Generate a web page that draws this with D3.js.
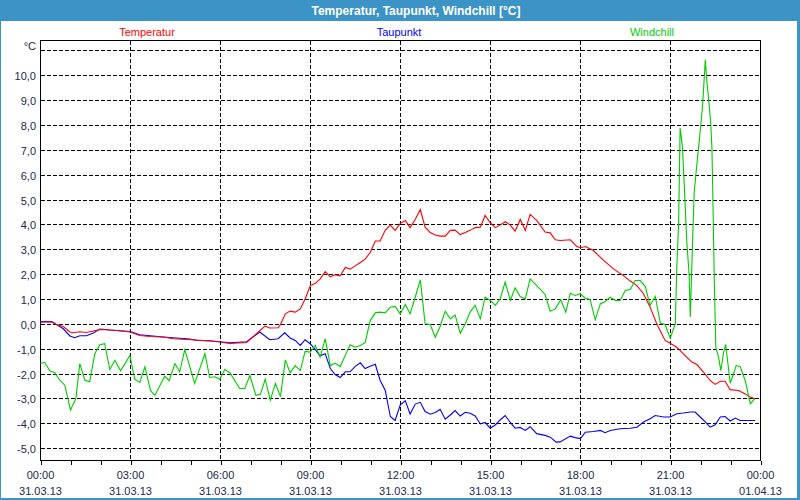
<!DOCTYPE html>
<html><head><meta charset="utf-8">
<script src="https://cdn.jsdelivr.net/npm/d3@7"></script>
<style>
html,body{margin:0;padding:0;background:#fff;}
svg{display:block;}
text{font-family:"Liberation Sans",Arial,sans-serif;}
</style></head>
<body>
<svg id="chart" width="800" height="500"></svg>
<script>
const titleText = "Temperatur, Taupunkt, Windchill [°C]";
const seriesNames = ["Temperatur", "Taupunkt", "Windchill"];
const seriesColors = ["#ff0000", "#0000ff", "#00cc00"];
const yTicks = [-5,-4,-3,-2,-1,0,1,2,3,4,5,6,7,8,9,10,11];
const yUnit = "°C";
const xTickHours = [0,3,6,9,12,15,18,21,24];
const xTimeLabels = ["00:00","03:00","06:00","09:00","12:00","15:00","18:00","21:00","00:00"];
const xDateLabels = ["31.03.13","31.03.13","31.03.13","31.03.13","31.03.13","31.03.13","31.03.13","31.03.13","01.04.13"];

// [hour, value]
const temperatur = [[0,0.07],[0.37,0.07],[0.53,-0.03],[0.76,-0.11],[0.98,-0.33],[1.09,-0.36],[1.31,-0.32],[1.53,-0.35],[1.76,-0.29],[1.98,-0.23],[2.2,-0.24],[2.53,-0.27],[2.99,-0.33],[3.31,-0.47],[3.64,-0.51],[4.09,-0.53],[4.42,-0.6],[4.87,-0.63],[5.2,-0.65],[5.64,-0.69],[5.98,-0.73],[6.31,-0.79],[6.87,-0.75],[7.2,-0.4],[7.48,-0.09],[7.64,-0.17],[7.92,-0.16],[8.0,-0.03],[8.16,0.4],[8.32,0.51],[8.49,0.47],[8.66,0.6],[8.82,1.0],[8.99,1.53],[9.16,1.63],[9.32,1.8],[9.49,2.1],[9.66,1.89],[9.82,1.97],[9.99,1.93],[10.16,2.27],[10.32,2.2],[10.49,2.33],[10.66,2.47],[10.82,2.6],[10.99,2.87],[11.16,3.33],[11.32,3.33],[11.49,3.76],[11.66,3.97],[11.82,3.76],[11.99,4.03],[12.16,4.16],[12.32,3.87],[12.49,4.2],[12.66,4.6],[12.82,3.89],[12.99,3.67],[13.16,3.57],[13.32,3.53],[13.49,3.53],[13.66,3.76],[13.82,3.77],[13.99,3.59],[14.16,3.67],[14.32,3.76],[14.49,3.87],[14.66,3.89],[14.82,4.36],[14.99,4.07],[15.16,3.87],[15.32,3.97],[15.49,4.11],[15.66,3.97],[15.82,3.73],[15.99,4.2],[16.16,3.76],[16.32,4.4],[16.54,4.16],[16.82,3.69],[16.99,3.66],[17.16,3.38],[17.32,3.35],[17.66,3.38],[17.88,3.11],[18.0,3.06],[18.16,3.11],[18.43,2.95],[18.77,2.55],[19.1,2.21],[19.43,1.94],[19.66,1.72],[19.88,1.54],[20.1,1.21],[20.32,0.67],[20.54,0],[20.82,-0.67],[20.99,-0.78],[21.21,-0.94],[21.43,-1.21],[21.71,-1.54],[21.88,-1.64],[22.1,-1.94],[22.32,-2.28],[22.49,-2.44],[22.66,-2.31],[22.82,-2.31],[22.99,-2.65],[23.27,-2.68],[23.49,-2.82],[23.66,-2.95],[23.82,-3.02]];

const taupunkt = [[0,0.09],[0.37,0.09],[0.76,-0.2],[0.98,-0.49],[1.14,-0.56],[1.31,-0.48],[1.53,-0.48],[1.76,-0.37],[1.98,-0.21],[2.31,-0.25],[2.99,-0.31],[3.31,-0.44],[4.09,-0.53],[4.98,-0.61],[5.2,-0.67],[5.64,-0.68],[5.98,-0.72],[6.31,-0.76],[6.87,-0.72],[7.31,-0.33],[7.64,-0.64],[7.92,-0.6],[8.14,-0.36],[8.32,-0.57],[8.49,-0.67],[8.66,-0.87],[8.82,-0.64],[8.99,-0.8],[9.16,-1.04],[9.32,-1.29],[9.49,-1.2],[9.66,-1.8],[9.82,-2.04],[9.99,-2.16],[10.16,-1.93],[10.32,-1.93],[10.49,-1.71],[10.66,-1.57],[10.82,-1.8],[10.99,-1.71],[11.16,-1.63],[11.32,-2.27],[11.49,-2.67],[11.66,-3.73],[11.82,-3.89],[11.99,-3.27],[12.16,-3.09],[12.32,-3.63],[12.49,-3.23],[12.66,-3.16],[12.82,-3.53],[12.99,-3.64],[13.16,-3.57],[13.32,-3.44],[13.49,-3.84],[13.66,-3.67],[13.82,-3.49],[13.99,-3.71],[14.16,-3.56],[14.32,-3.6],[14.49,-3.71],[14.66,-4.03],[14.82,-3.97],[14.99,-4.2],[15.16,-4.07],[15.32,-3.87],[15.49,-3.69],[15.66,-3.97],[15.82,-4.2],[15.99,-4.17],[16.16,-4.29],[16.32,-4.14],[16.54,-4.42],[16.82,-4.49],[16.99,-4.56],[17.19,-4.76],[17.32,-4.75],[17.66,-4.52],[17.82,-4.58],[18.0,-4.62],[18.16,-4.36],[18.43,-4.33],[18.66,-4.29],[18.82,-4.38],[18.99,-4.29],[19.32,-4.22],[19.66,-4.2],[19.88,-4.16],[20.1,-3.95],[20.32,-3.82],[20.49,-3.69],[20.77,-3.75],[20.99,-3.75],[21.21,-3.62],[21.43,-3.59],[21.66,-3.55],[21.82,-3.55],[21.99,-3.75],[22.16,-3.95],[22.32,-4.16],[22.49,-4.06],[22.66,-3.75],[22.82,-3.73],[22.99,-3.91],[23.16,-3.79],[23.32,-3.89],[23.82,-3.89]];

const windchill = [[0,-1.6],[0.14,-1.55],[0.31,-1.89],[0.48,-1.97],[0.64,-2.27],[0.81,-2.47],[1.0,-3.47],[1.18,-3.0],[1.31,-1.6],[1.48,-2.27],[1.64,-2.33],[1.81,-1.2],[1.98,-0.84],[2.14,-0.8],[2.31,-1.84],[2.48,-1.47],[2.67,-1.89],[2.98,-1.27],[3.14,-2.23],[3.31,-2.36],[3.48,-1.73],[3.67,-2.69],[3.81,-2.88],[4.14,-2.11],[4.29,-2.29],[4.48,-1.6],[4.64,-1.93],[4.81,-1.04],[5.14,-2.4],[5.48,-1.2],[5.64,-2.16],[5.81,-2.13],[5.98,-2.23],[6.14,-1.84],[6.31,-1.97],[6.64,-2.6],[6.81,-2.6],[6.98,-2.08],[7.18,-2.88],[7.33,-2.84],[7.49,-2.23],[7.66,-3.07],[7.83,-2.4],[8.0,-2.93],[8.16,-1.45],[8.32,-1.97],[8.49,-1.68],[8.66,-1.88],[8.82,-1.11],[8.99,-1.14],[9.16,-0.87],[9.32,-1.34],[9.49,-0.6],[9.66,-1.68],[9.82,-1.58],[9.99,-1.72],[10.16,-1.27],[10.32,-0.84],[10.49,-0.94],[10.66,-0.87],[10.82,-0.76],[10.99,0.13],[11.16,0.44],[11.32,0.47],[11.49,0.44],[11.66,0.67],[11.82,0.7],[11.99,0.4],[12.16,0.78],[12.32,0.4],[12.49,1.07],[12.66,1.77],[12.82,0],[12.99,-0.03],[13.16,-0.54],[13.32,-0.11],[13.49,0.51],[13.66,0.2],[13.82,0.36],[13.99,-0.38],[14.16,0],[14.32,0.47],[14.49,0.74],[14.66,0.2],[14.82,1.07],[14.99,0.94],[15.16,0.74],[15.32,1.0],[15.49,1.68],[15.66,0.94],[15.82,1.45],[15.99,1.1],[16.16,1.0],[16.32,1.81],[16.54,1.54],[16.82,1.18],[16.99,0.51],[17.16,0.6],[17.34,0.97],[17.51,0.47],[17.66,1.23],[17.82,1.14],[17.99,1.21],[18.16,1.03],[18.32,0.98],[18.49,0.16],[18.66,0.8],[18.82,0.9],[18.99,1.07],[19.16,0.94],[19.32,0.94],[19.49,1.34],[19.66,1.38],[19.82,1.74],[19.99,1.74],[20.16,1.5],[20.32,0.74],[20.49,1.11],[20.66,0.03],[20.82,-0.03],[20.99,-0.58],[21.16,0],[21.21,2.28],[21.27,4.02],[21.32,7.88],[21.36,7.51],[21.4,7.04],[21.46,5.56],[21.54,3.35],[21.62,2.01],[21.66,0.27],[21.73,3.08],[21.79,5.29],[21.88,6.43],[21.96,7.37],[22.04,8.38],[22.08,8.98],[22.16,10.62],[22.21,9.79],[22.27,9.05],[22.34,8.11],[22.38,7.1],[22.41,5.23],[22.46,1.74],[22.51,-0.94],[22.6,-1.34],[22.68,-1.88],[22.77,-1.14],[22.84,-0.83],[22.99,-2.39],[23.1,-2.01],[23.19,-1.68],[23.32,-1.72],[23.49,-2.28],[23.66,-3.22],[23.82,-2.99]];

const seriesData = [temperatur, taupunkt, windchill];

const svg = d3.select("#chart");
const W = 800, H = 500;
const plot = {left: 40.5, right: 760.5, top: 40.5, bottom: 460.5};

const x = d3.scaleLinear().domain([0, 24]).range([plot.left, plot.right]);
const y = d3.scaleLinear().domain([-5.5, 11.4]).range([plot.bottom, plot.top]);

// title bar and window border
svg.append("rect").attr("x",0).attr("y",0).attr("width",W).attr("height",21).attr("fill","#3c93c6");
svg.append("rect").attr("x",0).attr("y",0).attr("width",1).attr("height",H).attr("fill","#3c93c6");
svg.append("rect").attr("x",W-3).attr("y",0).attr("width",3).attr("height",H).attr("fill","#3c93c6");
svg.append("rect").attr("x",0).attr("y",H-2).attr("width",W).attr("height",2).attr("fill","#3c93c6");

svg.append("text").attr("x",416).attr("y",15).attr("text-anchor","middle")
  .attr("fill","#ffffff").attr("font-weight","bold").attr("font-size","12px")
  .attr("textLength",209).attr("lengthAdjust","spacingAndGlyphs").text(titleText);

// legend
const legendX = [147, 399, 652];
seriesNames.forEach((n,i)=>{
  svg.append("text").attr("x",legendX[i]).attr("y",36).attr("text-anchor","middle")
    .attr("font-size","11px").attr("fill",seriesColors[i]).text(n);
});

// horizontal gridlines
svg.append("g").selectAll("line").data(yTicks).join("line")
  .attr("x1",plot.left).attr("x2",plot.right)
  .attr("y1",d=>Math.round(y(d))+0.5).attr("y2",d=>Math.round(y(d))+0.5)
  .attr("stroke","#000").attr("stroke-dasharray","4,2").attr("shape-rendering","crispEdges");

// vertical gridlines
svg.append("g").selectAll("line").data(xTickHours.filter(h=>h>0&&h<24)).join("line")
  .attr("x1",d=>x(d)).attr("x2",d=>x(d))
  .attr("y1",plot.top).attr("y2",plot.bottom)
  .attr("stroke","#000").attr("stroke-dasharray","4,2").attr("shape-rendering","crispEdges");

// y labels
const labelColor = "#1c2850";
svg.append("g").selectAll("text").data(yTicks.filter(d=>d<11)).join("text")
  .attr("x",36).attr("y",d=>Math.round(y(d))+4.5).attr("text-anchor","end")
  .attr("font-size","11px").attr("fill",labelColor)
  .text(d=>d3.format(".1f")(d).replace(".",",").replace("−","-"));
svg.append("text").attr("x",36).attr("y",50).attr("text-anchor","end")
  .attr("font-size","11px").attr("fill",labelColor).text(yUnit);

// x axis with hourly ticks
const xAxis = d3.axisBottom(x).tickValues(d3.range(0,25,1)).tickSize(4).tickFormat("");
const gx = svg.append("g").attr("transform",`translate(0,${plot.bottom})`).call(xAxis);
gx.select(".domain").remove();
gx.selectAll(".tick line").attr("stroke","#000").attr("shape-rendering","crispEdges");

// x labels
xTickHours.forEach((h,i)=>{
  svg.append("text").attr("x",x(h)).attr("y",479).attr("text-anchor","middle")
    .attr("font-size","11px").attr("fill",labelColor).text(xTimeLabels[i]);
  svg.append("text").attr("x",x(h)).attr("y",495).attr("text-anchor","middle")
    .attr("font-size","11px").attr("fill",labelColor).text(xDateLabels[i]);
});

// plot frame
svg.append("path")
  .attr("d",`M${plot.left},${plot.bottom}V${plot.top}H${plot.right}V${plot.bottom}H${plot.left}`)
  .attr("fill","none").attr("stroke","#000").attr("shape-rendering","crispEdges");

// series lines
const line = d3.line().x(d=>x(d[0])).y(d=>y(d[1]));
const order = [1,0,2];
order.forEach(i=>{
  svg.append("path").datum(seriesData[i]).attr("d",line)
    .attr("fill","none").attr("stroke",seriesColors[i]).attr("stroke-width",1.1);
});
</script>
</body></html>
